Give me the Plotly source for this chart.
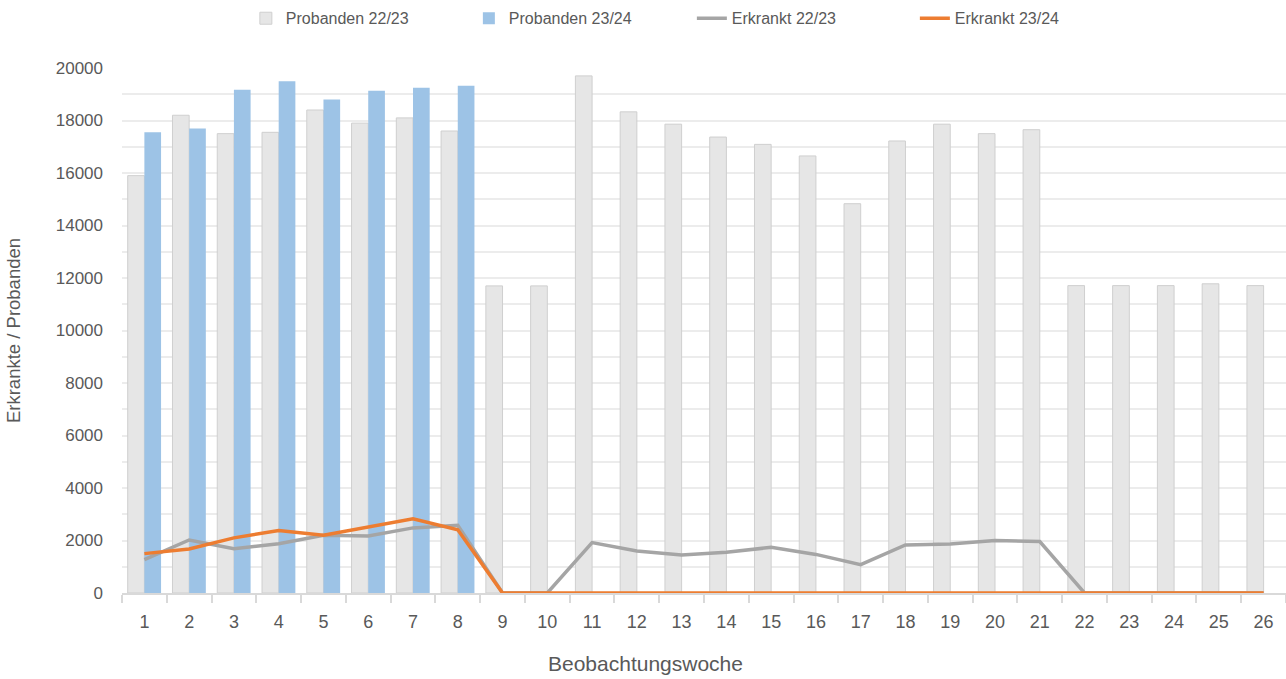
import plotly.graph_objects as go

weeks = [str(i) for i in range(1, 27)]

probanden_2223 = [15900, 18200, 17500, 17550, 18400, 17900, 18100, 17600,
                  11700, 11700, 19700, 18330, 17860, 17370, 17090, 16650,
                  14830, 17220, 17860, 17500, 17650, 11710, 11710, 11710,
                  11780, 11710]
probanden_2324 = [17550, 17700, 19170, 19500, 18800, 19130, 19250, 19320] + [None] * 18

erkrankt_2223 = [1270, 2020, 1690, 1880, 2200, 2170, 2480, 2580, 0, 0,
                 1920, 1600, 1450, 1550, 1740, 1470, 1080, 1830, 1870,
                 2000, 1960, 0, 0, 0, 0, 0]
erkrankt_2324 = [1500, 1680, 2100, 2380, 2200, 2500, 2830, 2410] + [0] * 18

y_ticks = [0, 2000, 4000, 6000, 8000, 10000, 12000, 14000, 16000, 18000, 20000]
y_ticktext = [str(v) for v in y_ticks]

TXT = "#595959"
FONT = "Liberation Sans, Arial, sans-serif"

fig = go.Figure()
fig.add_trace(go.Bar(x=weeks, y=probanden_2223, name="Probanden 22/23",
                     marker=dict(color="#e6e6e6", line=dict(color="#cfcfcf", width=1))))
fig.add_trace(go.Bar(x=weeks, y=probanden_2324, name="Probanden 23/24",
                     marker=dict(color="#9dc3e6", line=dict(width=0))))
fig.add_trace(go.Scatter(x=weeks, y=erkrankt_2223, name="Erkrankt 22/23", mode="lines",
                         line=dict(color="#a5a5a5", width=3.5)))
fig.add_trace(go.Scatter(x=weeks, y=erkrankt_2324, name="Erkrankt 23/24", mode="lines",
                         line=dict(color="#ed7d31", width=3.5)))

fig.update_layout(
    width=1286, height=679,
    margin=dict(l=122, r=0, t=68, b=86),
    plot_bgcolor="white", paper_bgcolor="white",
    barmode="group", bargap=0.255, bargroupgap=0,
    font=dict(family=FONT, color=TXT, size=17),
    legend=dict(orientation="h", xref="container", yref="container",
                x=0.538, xanchor="center", y=0.973, yanchor="middle",
                font=dict(family=FONT, size=16, color=TXT),
                entrywidth=178, itemwidth=30, traceorder="normal"),
    xaxis=dict(type="category", showgrid=False, showline=True, linecolor="#d9d9d9",
               linewidth=1.5, ticks="outside", tickson="boundaries", ticklen=8,
               tickcolor="#d9d9d9", tickwidth=1.5, ticklabelstandoff=12,
               tickfont=dict(family=FONT, size=18, color=TXT)),
    yaxis=dict(range=[0, 20000], tickvals=y_ticks, ticktext=y_ticktext,
               showgrid=True, gridcolor="#ececec",
               gridwidth=1.5, zeroline=False, showline=False, ticks="",
               ticklabelstandoff=18,
               tickfont=dict(family=FONT, size=17, color=TXT),
               minor=dict(dtick=1000, showgrid=True, gridcolor="#ececec", gridwidth=1.5),
               title=dict(text="Erkrankte / Probanden", standoff=30,
                          font=dict(family=FONT, size=18.5, color=TXT))),
    annotations=[dict(text="Beobachtungswoche", xref="paper", yref="paper",
                      x=(645 - 122) / (1286 - 122), y=-(663 - 593) / (593 - 68),
                      xanchor="center", yanchor="middle", showarrow=False,
                      font=dict(family=FONT, size=21, color=TXT))],
)

fig.write_html("out.html", config={"displayModeBar": False},
               post_script="document.body.style.margin='0';")
